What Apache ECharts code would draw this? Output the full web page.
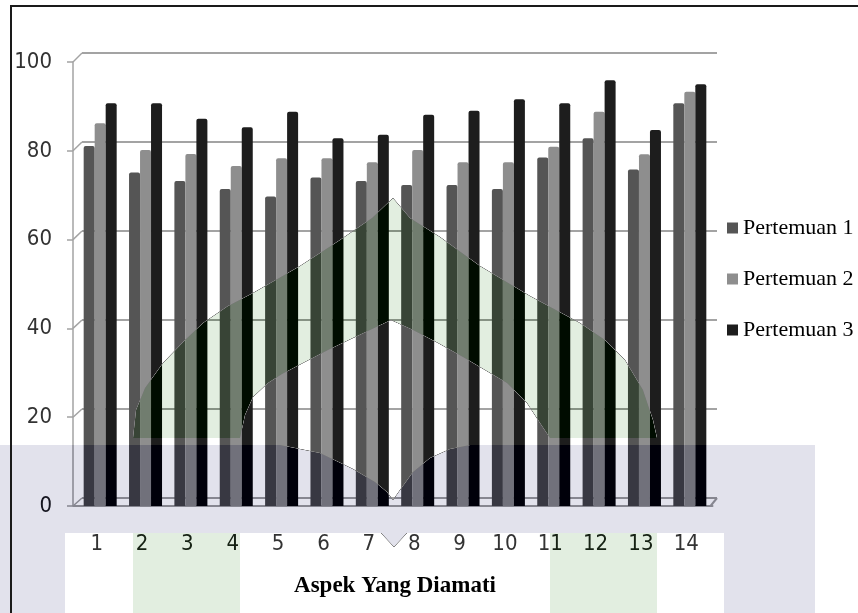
<!DOCTYPE html>
<html>
<head>
<meta charset="utf-8">
<script src="https://cdn.jsdelivr.net/npm/echarts/dist/echarts.min.js"></script>
<style>
  html, body { margin: 0; padding: 0; background: #ffffff; }
  #chart { width: 858px; height: 613px; }
</style>
</head>
<body>
<div id="chart"></div>
<script>
// Observation scores per aspect (1..14) for the three meetings
const categories = ['1', '2', '3', '4', '5', '6', '7', '8', '9', '10', '11', '12', '13', '14'];
const seriesNames = ['Pertemuan 1', 'Pertemuan 2', 'Pertemuan 3'];
const pertemuan1 = [81.1, 75.1, 73.2, 71.4, 69.7, 74.0, 73.2, 72.3, 72.3, 71.4, 78.5, 82.8, 75.8, 90.7];
const pertemuan2 = [86.2, 80.2, 79.3, 76.6, 78.3, 78.3, 77.4, 80.2, 77.4, 77.4, 80.9, 88.8, 79.2, 93.3];
const pertemuan3 = [90.7, 90.7, 87.2, 85.3, 88.8, 82.8, 83.6, 88.1, 89.0, 91.6, 90.7, 95.9, 84.7, 95.0];
const yTicks = [0, 20, 40, 60, 80, 100];
const xAxisTitle = 'Aspek Yang Diamati';

const seriesColors = ['#555555', '#8e8e8e', '#1d1d1d'];
const gridColor = '#a3a3a3';
const numFont = "'Liberation Sans Narrow', 'DejaVu Sans Condensed', 'Noto Sans', sans-serif";
const serifFont = "'Liberation Serif', 'DejaVu Serif', serif";

// Layout: back wall (gridlines) and front plane (bars, labels)
const W = 858, H = 613;
const back = { left: 82, right: 717, top: 53, bottom: 498 };
const front = { left: 77.5, right: 712.5, top: 62, bottom: 506, axisX: 73 };

const chart = echarts.init(document.getElementById('chart'), null, { renderer: 'canvas' });

const seriesData = [pertemuan1, pertemuan2, pertemuan3];

// Subtractive tint (invert, add, invert) so dark marks darken and white turns pale
function tintLayer(type, shape, tint, z) {
  return [
    { type: type, shape: shape, silent: true, z: z, style: { fill: '#ffffff', blend: 'difference' } },
    { type: type, shape: shape, silent: true, z: z + 1, style: { fill: tint, blend: 'lighter' } },
    { type: type, shape: shape, silent: true, z: z + 2, style: { fill: '#ffffff', blend: 'difference' } }
  ];
}

// Pale arch and bands behind the plot
const archPoints = [
  [133, 438], [136, 410], [145, 388], [163, 363], [185, 340], [203, 323], [228, 306], [253, 293],
  [300, 266], [340, 240], [372, 218], [393, 198],
  [410, 218], [440, 237], [480, 266], [530, 296], [580, 323], [605, 340], [625, 360], [643, 390],
  [653, 420], [657, 438],
  [550, 438], [540, 423], [527, 403], [507, 383], [485, 370], [463, 357], [438, 343], [413, 330], [391, 320],
  [370, 330], [353, 338], [328, 350], [303, 363], [282, 374], [268, 383], [253, 397], [245, 415], [240, 438]
];
const bandPoints = [
  [0, 445], [280, 445], [320, 453], [353, 469], [375, 482], [387, 492], [393, 500],
  [400, 490], [413, 472], [430, 458], [450, 449], [470, 445],
  [815, 445], [815, 613], [724, 613], [724, 533], [407, 533], [394, 547], [381, 533],
  [65, 533], [65, 613], [0, 613]
];
const lavender = '#1d1d13';
const green = '#1d111f';

const watermark = []
  .concat(tintLayer('polygon', { points: archPoints }, green, 40))
  .concat(tintLayer('polygon', { points: bandPoints }, lavender, 43))
  .concat(tintLayer('rect', { x: 133, y: 533, width: 107, height: 80 }, green, 46))
  .concat(tintLayer('rect', { x: 550, y: 533, width: 107, height: 80 }, green, 49));

const option = {
  backgroundColor: '#ffffff',
  animation: false,
  legend: {
    data: seriesNames,
    orient: 'vertical',
    left: 727,
    top: 216,
    padding: 0,
    icon: 'rect',
    itemWidth: 11,
    itemHeight: 11,
    itemGap: 27,
    textStyle: { fontFamily: serifFont, fontSize: 22, lineHeight: 24, color: '#000000' }
  },
  grid: [
    { left: back.left, right: W - back.right, top: back.top, bottom: H - back.bottom, outerBoundsMode: 'none', containLabel: false },
    { left: front.left, right: W - front.right, top: front.top, bottom: H - front.bottom, outerBoundsMode: 'none', containLabel: false }
  ],
  xAxis: [
    { type: 'category', gridIndex: 0, data: categories, show: false },
    {
      type: 'category', gridIndex: 1, data: categories,
      axisLine: { show: true, lineStyle: { color: gridColor, width: 2 } },
      axisTick: { show: false },
      axisLabel: { margin: 27, padding: [0, 7, 0, 0], fontFamily: numFont, fontSize: 22, color: '#333333' },
      name: xAxisTitle,
      nameLocation: 'middle',
      nameGap: 69,
      nameTextStyle: { fontFamily: serifFont, fontSize: 23, fontWeight: 'bold', color: '#000000' }
    }
  ],
  yAxis: [
    {
      type: 'value', gridIndex: 0, min: 0, max: 100, interval: 20,
      axisLine: { show: false }, axisTick: { show: false }, axisLabel: { show: false },
      splitLine: { show: true, lineStyle: { color: gridColor, width: 2 } }
    },
    {
      type: 'value', gridIndex: 1, min: 0, max: 100, interval: 20,
      offset: front.left - front.axisX,
      axisLine: { show: true, lineStyle: { color: gridColor, width: 1.5 } },
      axisTick: { show: true, length: 6, lineStyle: { color: gridColor, width: 1.5 } },
      axisLabel: { margin: 21, fontFamily: numFont, fontSize: 22, color: '#333333' },
      splitLine: { show: false }
    }
  ],
  series: seriesNames.map(function (name, i) {
    return {
      name: name,
      type: 'bar',
      xAxisIndex: 1,
      yAxisIndex: 1,
      data: seriesData[i],
      barWidth: 11,
      barGap: '0%',
      itemStyle: { color: seriesColors[i], borderRadius: [2, 2, 0, 0] }
    };
  }),
  graphic: { elements: watermark }
};

chart.setOption(option);

// Depth connectors from the front axis ticks to the back wall, plus the floor edges
const connectors = yTicks.map(function (v) {
  const yf = chart.convertToPixel({ yAxisIndex: 1 }, v);
  const yb = chart.convertToPixel({ yAxisIndex: 0 }, v);
  return {
    type: 'line', silent: true, z: 5,
    shape: { x1: front.axisX, y1: yf, x2: back.left, y2: yb },
    style: { stroke: gridColor, lineWidth: 1.5 }
  };
});
const yf0 = chart.convertToPixel({ yAxisIndex: 1 }, 0);
const yb0 = chart.convertToPixel({ yAxisIndex: 0 }, 0);
connectors.push({
  type: 'line', silent: true, z: 5,
  shape: { x1: front.right - 2, y1: yf0, x2: back.right, y2: yb0 },
  style: { stroke: gridColor, lineWidth: 2 }
});
connectors.push({
  type: 'line', silent: true, z: 5,
  shape: { x1: front.axisX, y1: yf0, x2: front.left, y2: yf0 },
  style: { stroke: gridColor, lineWidth: 2 }
});
// Outer frame (top and left edges visible)
connectors.push({
  type: 'rect', silent: true, z: 60,
  shape: { x: 11, y: 6, width: 900, height: 700 },
  style: { fill: null, stroke: '#1a1a1a', lineWidth: 2 }
});

chart.setOption({ graphic: { elements: watermark.concat(connectors) } }, { replaceMerge: ['graphic'] });
</script>
</body>
</html>
